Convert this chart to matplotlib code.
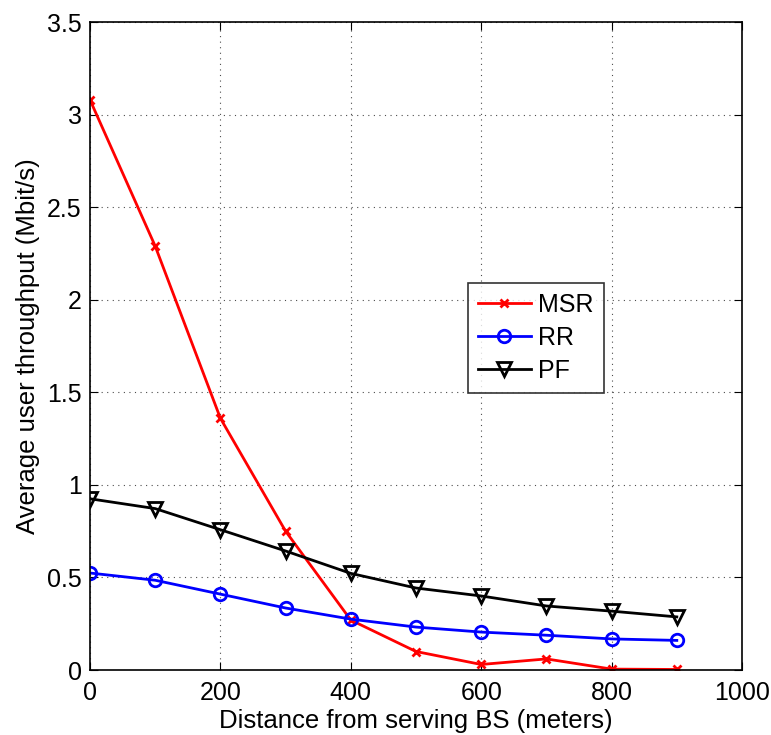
import matplotlib
matplotlib.use('Agg')
import matplotlib.pyplot as plt

plt.rcParams['font.family'] = ['Liberation Sans', 'DejaVu Sans']

# distance from BS (meters)
distance = [0, 100, 200, 300, 400, 500, 600, 700, 800, 900]

# average user throughput (Mbit/s)
msr = [3.08, 2.29, 1.36, 0.75, 0.27, 0.10, 0.03, 0.06, 0.005, 0.003]
rr = [0.524, 0.485, 0.41, 0.335, 0.275, 0.232, 0.205, 0.188, 0.168, 0.160]
pf = [0.925, 0.872, 0.758, 0.643, 0.522, 0.443, 0.400, 0.346, 0.318, 0.287]

fig = plt.figure(figsize=(7.71, 7.35), dpi=100)
ax = fig.add_axes([0.1167, 0.0884, 0.8457, 0.8816])

ax.plot(distance, msr, color='red', lw=2, marker='x', ms=6, mew=2, label='MSR')
ax.plot(distance, rr, color='blue', lw=2, marker='o', ms=9, mew=2,
        mfc='none', label='RR')
ax.plot(distance, pf, color='black', lw=2, marker='v', ms=10, mew=2,
        mfc='none', label='PF')

ax.set_xlim(0, 1000)
ax.set_ylim(0, 3.5)
ax.set_xticks(range(0, 1001, 200))
ax.set_yticks([0, 0.5, 1, 1.5, 2, 2.5, 3, 3.5])
ax.set_yticklabels(['0', '0.5', '1', '1.5', '2', '2.5', '3', '3.5'])
ax.tick_params(direction='in', top=True, right=True, labelsize=18, length=6)
ax.tick_params(axis='x', pad=8)
ax.tick_params(axis='y', pad=6)
ax.grid(True, linestyle=(0, (1, 4)), color='black', lw=0.8, alpha=0.7)
for s in ax.spines.values():
    s.set_linewidth(1.2)

ax.set_xlabel('Distance from serving BS (meters)', fontsize=18.5, labelpad=3)
ax.set_ylabel('Average user throughput (Mbit/s)', fontsize=18.5, labelpad=5)

leg = ax.legend(loc='upper left', bbox_to_anchor=(0.58, 0.597), fontsize=18,
                frameon=True, fancybox=False, edgecolor='black',
                handlelength=2.1, borderpad=0.4, labelspacing=0.35,
                handletextpad=0.3, borderaxespad=0)
leg.get_frame().set_linewidth(1.2)

fig.savefig('out.png', dpi=100)
